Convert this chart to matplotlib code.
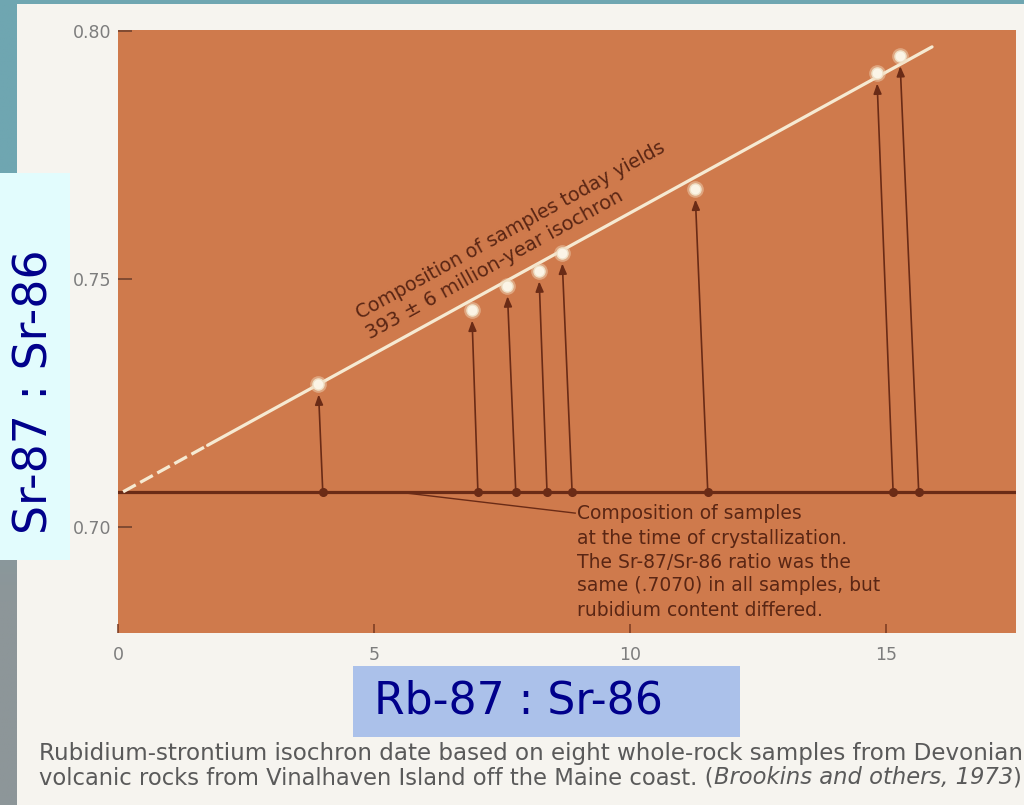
import numpy as np
import matplotlib
matplotlib.use("Agg")
import matplotlib.pyplot as plt
from matplotlib.patches import Rectangle

# ---- data -------------------------------------------------------------
# present-day composition of the eight whole-rock samples
rb_today = [3.91, 6.91, 7.60, 8.22, 8.67, 11.27, 14.82, 15.27]
sr_today = [0.7288, 0.7437, 0.7486, 0.7516, 0.7552, 0.7681, 0.7915, 0.7950]
# composition at the time of crystallization
rb_initial = [4.00, 7.03, 7.77, 8.38, 8.87, 11.52, 15.14, 15.64]
sr_initial = 0.7070
# isochron through today's samples (dashed where extrapolated)
isochron_x = [0.1, 15.9]
isochron_y = [0.7071, 0.7968]
isochron_dash_end = 1.75

x_ticks = [0, 5, 10, 15]
x_tick_labels = ["0", "5", "10", "15"]
y_ticks = [0.70, 0.75, 0.80]
y_tick_labels = ["0.70", "0.75", "0.80"]

isochron_label = ["Composition of samples today yields",
                  "393 \u00b1 6 million-year isochron"]
initial_label = ["Composition of samples",
                 "at the time of crystallization.",
                 "The Sr-87/Sr-86 ratio was the",
                 "same (.7070) in all samples, but",
                 "rubidium content differed."]
caption_line1 = ("Rubidium-strontium isochron date based on eight whole-rock "
                 "samples from Devonian")
caption_line2 = ["volcanic rocks from Vinalhaven Island off the Maine coast. (",
                 "Brookins and others, 1973", ")"]
x_label = "Rb-87 : Sr-86"
y_label = "Sr-87 : Sr-86"

# ---- colours ------------------------------------------------------------
PAPER = "#f6f4ef"
TEAL = np.array([111, 166, 177]) / 255
GREY = np.array([141, 150, 153]) / 255
PLOT_BG = "#cf7a4c"
DARK = "#6a2b16"
CREAM = "#f6ead2"
INK = "#5a2614"
TICK_TXT = "#7d7d7d"
CAPTION = "#5a5a5a"
BLUE_TXT = "#00008b"

W, H = 1024, 805
fig = plt.figure(figsize=(W / 100, H / 100), dpi=100)
fig.patch.set_facecolor(PAPER)


def fx(px):
    return px / W


def fy(py):
    return 1 - py / H


# ---- slide background and label boxes ---------------------------------
bg = fig.add_axes([0, 0, 1, 1], zorder=-10)
bg.set_axis_off()
rows = np.linspace(0, H, 200)
mix = np.clip((rows - 200) / 400, 0, 1)[:, None]
grad = (TEAL * (1 - mix) + GREY * mix)[:, None, :]
bg.imshow(grad, extent=(0, 17, H, 0), aspect="auto", interpolation="bilinear")
bg.add_patch(Rectangle((0, 0), W, 4, color=TEAL, lw=0))
bg.add_patch(Rectangle((0, 173), 70, 387, color="#e2fcfd", lw=0))
bg.add_patch(Rectangle((353, 666), 387, 71, color="#abc1ea", lw=0))
bg.set_xlim(0, W)
bg.set_ylim(H, 0)

# ---- main plot ----------------------------------------------------------
ax = fig.add_axes([fx(118), fy(633), 898 / W, 603 / H])
ax.set_facecolor(PLOT_BG)
ax.set_xlim(0, 17.54)
ax.set_ylim(0.67863, 0.8002)
for s in ax.spines.values():
    s.set_visible(False)

ax.set_xticks(x_ticks)
ax.set_xticklabels(x_tick_labels)
ax.set_yticks(y_ticks)
ax.set_yticklabels(y_tick_labels)
ax.tick_params(axis="x", direction="in", length=6.5, width=1.1,
               color="#7a3a20", pad=9, labelcolor=TICK_TXT, labelsize=12.5)
ax.tick_params(axis="y", direction="in", length=10, width=1.3,
               color="#7a4630", pad=5, labelcolor=TICK_TXT, labelsize=12.5)

# initial ratio line
ax.axhline(sr_initial, color=DARK, lw=2.3, zorder=2)

# leader from the initial line to its note
ax.plot([5.5, 8.93], [sr_initial, 0.7028], color=DARK, lw=1.0, zorder=2)

# isochron: dashed extrapolation then solid
y_break = np.interp(isochron_dash_end, isochron_x, isochron_y)
ax.plot([isochron_x[0], isochron_dash_end], [isochron_y[0], y_break],
        color=CREAM, lw=2.3, linestyle=(0, (4.5, 1.6)),
        solid_capstyle="butt", zorder=3)
ax.plot([isochron_dash_end, isochron_x[1]], [y_break, isochron_y[1]],
        color=CREAM, lw=2.3, solid_capstyle="round", zorder=3)

# evolution arrows from initial to present composition
for xb, xt, yt in zip(rb_initial, rb_today, sr_today):
    ax.annotate("", xy=(xt, yt), xytext=(xb, sr_initial),
                arrowprops=dict(arrowstyle="-|>,head_length=0.5,head_width=0.2",
                                mutation_scale=12, lw=1.2, color=DARK,
                                shrinkA=0, shrinkB=7.5),
                zorder=2)

ax.plot(rb_initial, [sr_initial] * len(rb_initial), "o", ms=5.5,
        color=DARK, zorder=4)
ax.plot(rb_today, sr_today, "o", ms=12, color="#f3dcc0", alpha=0.45,
        mec="none", zorder=4)
ax.plot(rb_today, sr_today, "o", ms=8, mfc="#fbf4e6", mec="#efe0c6",
        mew=1.0, zorder=5)

fig.canvas.draw()
renderer = fig.canvas.get_renderer()


def fit_width(t, target_px):
    w = t.get_window_extent(renderer).width
    t.set_fontsize(t.get_fontsize() * target_px / w)


# isochron annotation, rotated along the line
p0 = ax.transData.transform((isochron_x[0], isochron_y[0]))
p1 = ax.transData.transform((isochron_x[1], isochron_y[1]))
theta = np.arctan2(p1[1] - p0[1], p1[0] - p0[0])
slope = (isochron_y[1] - isochron_y[0]) / (isochron_x[1] - isochron_x[0])
for text, x_anchor, dist, width in zip(isochron_label, [8.07, 7.54],
                                       [42.5, 19.6], [349, 290]):
    y_anchor = isochron_y[0] + slope * (x_anchor - isochron_x[0])
    t = ax.annotate(text, xy=(x_anchor, y_anchor),
                    xytext=(-dist * np.sin(theta), dist * np.cos(theta)),
                    textcoords="offset pixels", ha="center", va="center",
                    color=INK, fontsize=12, family="DejaVu Sans",
                    rotation_mode="anchor", zorder=6)
    fit_width(t, width)
    t.set_rotation(np.degrees(theta))

# note on the initial composition
note_baselines = [519, 544, 568, 591, 616]
note_size = None
for text, yb in zip(initial_label, note_baselines):
    t = fig.text(fx(577), fy(yb), text, ha="left", va="baseline",
                 color=INK, fontsize=12, family="DejaVu Sans")
    if note_size is None:
        fit_width(t, 225)
        note_size = t.get_fontsize()
    else:
        t.set_fontsize(note_size)

# caption, each line filling the page width
cap1 = fig.text(fx(39), fy(760), caption_line1, ha="left", va="baseline",
                color=CAPTION, fontsize=13, family="DejaVu Sans")
fit_width(cap1, 982)

parts = []
for part, style in zip(caption_line2, ["normal", "italic", "normal"]):
    parts.append(fig.text(fx(39), fy(784), part, ha="left", va="baseline",
                          color=CAPTION, fontsize=13, family="DejaVu Sans",
                          style=style))
total = sum(p.get_window_extent(renderer).width for p in parts)
scale = 982 / total
x_px = 39
for p in parts:
    p.set_fontsize(13 * scale)
    p.set_x(fx(x_px))
    x_px += p.get_window_extent(renderer).width

# axis labels in their boxes
xl = fig.text(fx(518.5), fy(701), x_label, ha="center", va="center",
              color=BLUE_TXT, fontsize=28, family="DejaVu Sans")
fit_width(xl, 289)
yl = fig.text(fx(35), fy(392), y_label, ha="center", va="center",
              color=BLUE_TXT, fontsize=28, family="DejaVu Sans")
fit_width(yl, 285)
yl.set_rotation(90)

fig.savefig("out.png", dpi=100, facecolor=fig.get_facecolor())
